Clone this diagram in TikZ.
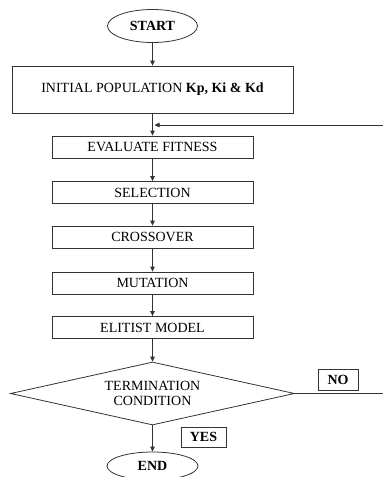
\documentclass[tikz,border=0pt]{standalone}
\usepackage{fontspec}
\setmainfont{Liberation Serif}
\usetikzlibrary{shapes.geometric,arrows.meta}

\begin{document}
\begin{tikzpicture}[x=1pt,y=-1pt,
  line width=0.8pt, draw=black!80, >={Triangle[length=5pt,width=4.5pt]},
  every node/.style={font=\fontsize{14}{15}\selectfont, draw=black!80, inner sep=0pt},
  term/.style={ellipse, font=\fontsize{14}{15}\selectfont\bfseries},
  stepbox/.style={rectangle, minimum width=201, minimum height=22},
  tag/.style={rectangle, font=\fontsize{14}{15}\selectfont\bfseries}]
  \useasboundingbox (0,0) rectangle (383,477);
  \node[term, minimum width=90, minimum height=33] (start) at (152.5,26) {START};
  \node[rectangle, minimum width=281, minimum height=47] (init) at (152.5,89.5) {INITIAL POPULATION \textbf{Kp, Ki \& Kd}};
  \node[stepbox] (eval) at (152.5,147)   {EVALUATE FITNESS};
  \node[stepbox] (sel)  at (152.5,192.5) {SELECTION};
  \node[stepbox] (cross) at (152.5,237)  {CROSSOVER};
  \node[stepbox] (mut)  at (152.5,283)   {MUTATION};
  \node[stepbox] (elit) at (152.5,327.5) {ELITIST MODEL};
  \node[diamond, aspect=4.5, minimum width=284, minimum height=63, align=center] (cond) at (152.5,393.5) {TERMINATION\\CONDITION};
  \node[tag, minimum width=40, minimum height=21] (no)  at (338,379.5) {NO};
  \node[tag, minimum width=45, minimum height=20] (yes) at (203.5,437) {YES};
  \node[term, minimum width=91, minimum height=28] (end) at (152.5,466) {END};
  \coordinate (join) at (154.5,125);
  % main flow
  \draw[->] (start) -- (init);
  \draw[->] (init) -- (eval);
  \draw[->] (eval) -- (sel);
  \draw[->] (sel) -- (cross);
  \draw[->] (cross) -- (mut);
  \draw[->] (mut) -- (elit);
  \draw[->] (elit) -- (cond);
  \draw[->] (cond) -- (end);
  % loop back (its vertical lies past the right border)
  \draw[->] (cond.east) -- (400,393.5) |- (join);
\end{tikzpicture}
\end{document}
